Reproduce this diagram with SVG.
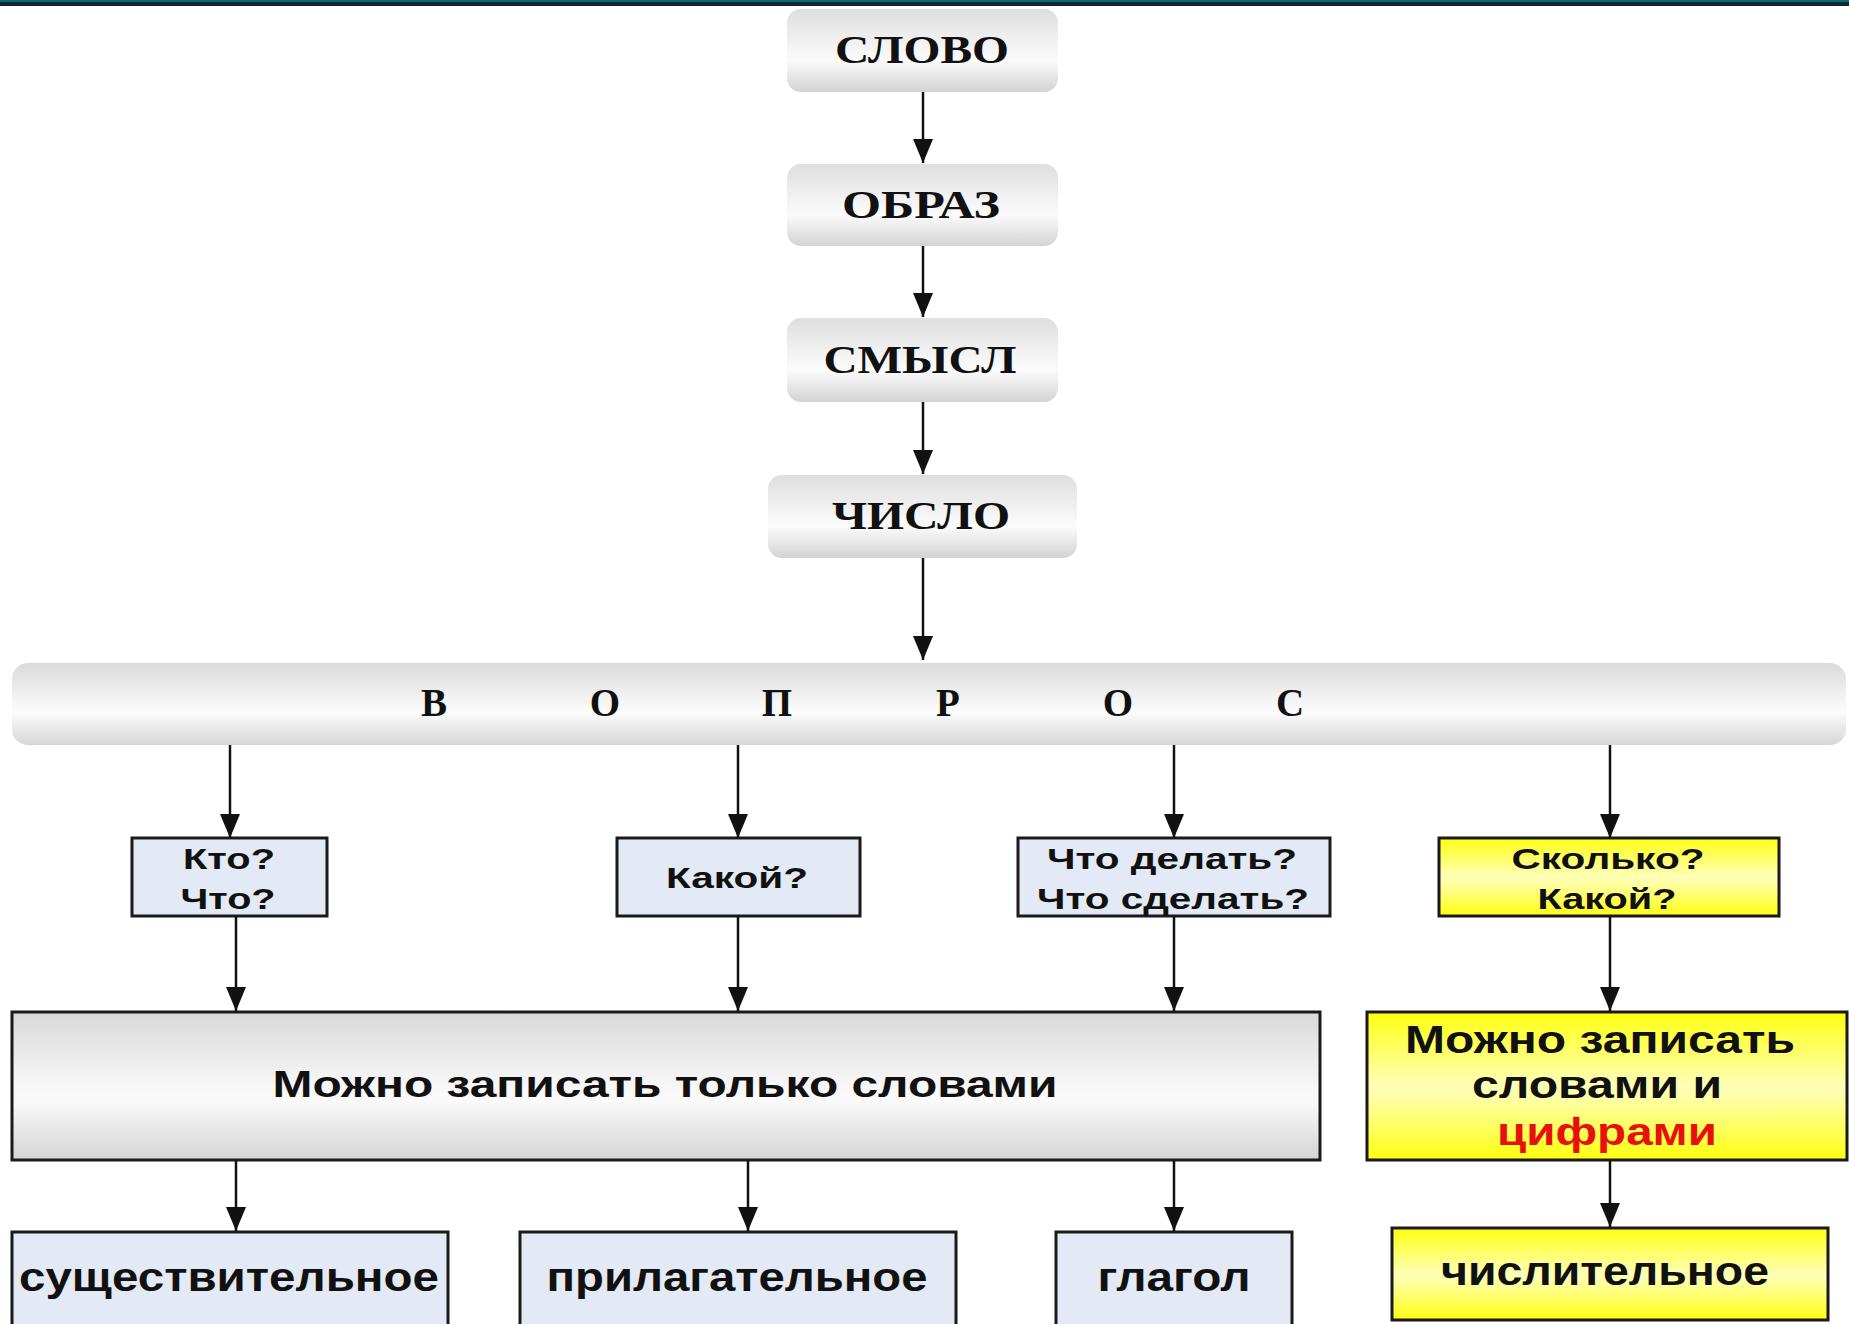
<svg xmlns="http://www.w3.org/2000/svg" width="1849" height="1324" viewBox="0 0 1849 1324">
<defs>
<linearGradient id="gTop" x1="0" y1="0" x2="0" y2="1">
<stop offset="0" stop-color="#dedede"/>
<stop offset="0.5" stop-color="#f6f6f6"/>
<stop offset="0.62" stop-color="#fbfbfb"/>
<stop offset="1" stop-color="#d3d3d3"/>
</linearGradient>
<linearGradient id="gBar" x1="0" y1="0" x2="0" y2="1">
<stop offset="0" stop-color="#dadada"/>
<stop offset="0.45" stop-color="#f4f4f4"/>
<stop offset="0.6" stop-color="#fcfcfc"/>
<stop offset="1" stop-color="#d6d6d6"/>
</linearGradient>
<linearGradient id="gGray" x1="0" y1="0" x2="0" y2="1">
<stop offset="0" stop-color="#d9d9d9"/>
<stop offset="0.5" stop-color="#f7f7f7"/>
<stop offset="0.6" stop-color="#fafafa"/>
<stop offset="1" stop-color="#d4d4d4"/>
</linearGradient>
<linearGradient id="gYel" x1="0" y1="0" x2="0" y2="1">
<stop offset="0" stop-color="#ffff10"/>
<stop offset="0.5" stop-color="#ffffb8"/>
<stop offset="0.6" stop-color="#ffffa0"/>
<stop offset="1" stop-color="#ffff10"/>
</linearGradient>
<linearGradient id="gBand" x1="0" y1="0" x2="0" y2="1">
<stop offset="0" stop-color="#0f6b6b"/>
<stop offset="0.3" stop-color="#0f6b6b"/>
<stop offset="0.35" stop-color="#0b2a3c"/>
<stop offset="1" stop-color="#0b2436"/>
</linearGradient>
<marker id="arr" markerUnits="userSpaceOnUse" markerWidth="24" markerHeight="20" refX="24" refY="10" orient="auto" viewBox="0 0 24 20">
<path d="M0,0 L24,10 L0,20 z" fill="#111"/>
</marker>
<style>
.serif{font-family:"Liberation Serif","Times New Roman",serif;font-weight:bold;fill:#111;text-anchor:middle}
.sans{font-family:"Liberation Sans",Arial,sans-serif;font-weight:bold;fill:#111;text-anchor:middle}
.top{fill:url(#gTop)}
.blue{fill:#e4eaf5;stroke:#1a1a1a;stroke-width:3}
.yel{fill:url(#gYel);stroke:#1a1a1a;stroke-width:3}
.gray{fill:url(#gGray);stroke:#1a1a1a;stroke-width:3}
.conn line{stroke:#111;stroke-width:2.5;marker-end:url(#arr)}
</style>
</defs>
<rect x="0" y="0" width="1849" height="1324" fill="#ffffff"/>
<rect x="0" y="0" width="1849" height="6" fill="url(#gBand)"/>

<g id="n-slovo">
<rect class="top" x="787" y="9" width="271" height="83" rx="14"/>
<text class="serif" x="922" y="63" font-size="39" textLength="174" lengthAdjust="spacingAndGlyphs">СЛОВО</text>
</g>
<g id="n-obraz">
<rect class="top" x="787" y="164" width="271" height="82" rx="14"/>
<text class="serif" x="921" y="218" font-size="39" textLength="158" lengthAdjust="spacingAndGlyphs">ОБРАЗ</text>
</g>
<g id="n-smysl">
<rect class="top" x="787" y="318" width="271" height="84" rx="14"/>
<text class="serif" x="920" y="373" font-size="39" textLength="193" lengthAdjust="spacingAndGlyphs">СМЫСЛ</text>
</g>
<g id="n-chislo">
<rect class="top" x="768" y="475" width="309" height="83" rx="14"/>
<text class="serif" x="921" y="529" font-size="39" textLength="178" lengthAdjust="spacingAndGlyphs">ЧИСЛО</text>
</g>
<g id="n-vopros">
<rect x="12" y="663" width="1834" height="82" rx="16" fill="url(#gBar)"/>
<text class="serif" x="434" y="716" font-size="39">В</text>
<text class="serif" x="605" y="716" font-size="39">О</text>
<text class="serif" x="777" y="716" font-size="39">П</text>
<text class="serif" x="948" y="716" font-size="39">Р</text>
<text class="serif" x="1118" y="716" font-size="39">О</text>
<text class="serif" x="1290" y="716" font-size="39">С</text>
</g>

<g id="n-kto">
<rect class="blue" x="132" y="838" width="195" height="78"/>
<text class="sans" x="229" y="869" font-size="30" textLength="92" lengthAdjust="spacingAndGlyphs">Кто?</text>
<text class="sans" x="228" y="909" font-size="30" textLength="95" lengthAdjust="spacingAndGlyphs">Что?</text>
</g>
<g id="n-kakoy">
<rect class="blue" x="617" y="838" width="243" height="78"/>
<text class="sans" x="737" y="888" font-size="30" textLength="142" lengthAdjust="spacingAndGlyphs">Какой?</text>
</g>
<g id="n-chto">
<rect class="blue" x="1018" y="838" width="312" height="78"/>
<text class="sans" x="1172" y="869" font-size="30" textLength="250" lengthAdjust="spacingAndGlyphs">Что делать?</text>
<text class="sans" x="1173" y="909" font-size="30" textLength="272" lengthAdjust="spacingAndGlyphs">Что сделать?</text>
</g>
<g id="n-skolko">
<rect class="yel" x="1439" y="838" width="340" height="78"/>
<text class="sans" x="1608" y="869" font-size="30" textLength="193" lengthAdjust="spacingAndGlyphs">Сколько?</text>
<text class="sans" x="1607" y="909" font-size="30" textLength="139" lengthAdjust="spacingAndGlyphs">Какой?</text>
</g>

<g id="n-slovami">
<rect class="gray" x="12" y="1012" width="1308" height="148"/>
<text class="sans" x="665" y="1097" font-size="37" textLength="785" lengthAdjust="spacingAndGlyphs">Можно записать только словами</text>
</g>
<g id="n-ciframi">
<rect class="yel" x="1367" y="1012" width="480" height="148"/>
<text class="sans" x="1600" y="1053" font-size="39" textLength="390" lengthAdjust="spacingAndGlyphs">Можно записать</text>
<text class="sans" x="1597" y="1098" font-size="39" textLength="250" lengthAdjust="spacingAndGlyphs">словами и</text>
<text class="sans" x="1607" y="1145" font-size="39" textLength="220" lengthAdjust="spacingAndGlyphs" style="fill:#e8100c">цифрами</text>
</g>

<g id="n-sush">
<rect class="blue" x="12" y="1232" width="436" height="100"/>
<text class="sans" x="229" y="1291" font-size="40" textLength="420" lengthAdjust="spacingAndGlyphs">существительное</text>
</g>
<g id="n-pril">
<rect class="blue" x="520" y="1232" width="436" height="100"/>
<text class="sans" x="737" y="1291" font-size="40" textLength="381" lengthAdjust="spacingAndGlyphs">прилагательное</text>
</g>
<g id="n-glagol">
<rect class="blue" x="1056" y="1232" width="236" height="100"/>
<text class="sans" x="1174" y="1291" font-size="40" textLength="153" lengthAdjust="spacingAndGlyphs">глагол</text>
</g>
<g id="n-chislit">
<rect class="yel" x="1392" y="1228" width="436" height="92"/>
<text class="sans" x="1605" y="1285" font-size="40" textLength="328" lengthAdjust="spacingAndGlyphs">числительное</text>
</g>

<g id="connectors" class="conn">
<line x1="923" y1="92" x2="923" y2="163"/>
<line x1="923" y1="246" x2="923" y2="317"/>
<line x1="923" y1="402" x2="923" y2="474"/>
<line x1="923" y1="558" x2="923" y2="660"/>
<line x1="230" y1="745" x2="230" y2="838"/>
<line x1="738" y1="745" x2="738" y2="838"/>
<line x1="1174" y1="745" x2="1174" y2="838"/>
<line x1="1610" y1="745" x2="1610" y2="838"/>
<line x1="236" y1="917" x2="236" y2="1011"/>
<line x1="738" y1="917" x2="738" y2="1011"/>
<line x1="1174" y1="917" x2="1174" y2="1011"/>
<line x1="1610" y1="917" x2="1610" y2="1011"/>
<line x1="236" y1="1161" x2="236" y2="1231"/>
<line x1="748" y1="1161" x2="748" y2="1231"/>
<line x1="1174" y1="1161" x2="1174" y2="1231"/>
<line x1="1610" y1="1161" x2="1610" y2="1227"/>
</g>
</svg>
